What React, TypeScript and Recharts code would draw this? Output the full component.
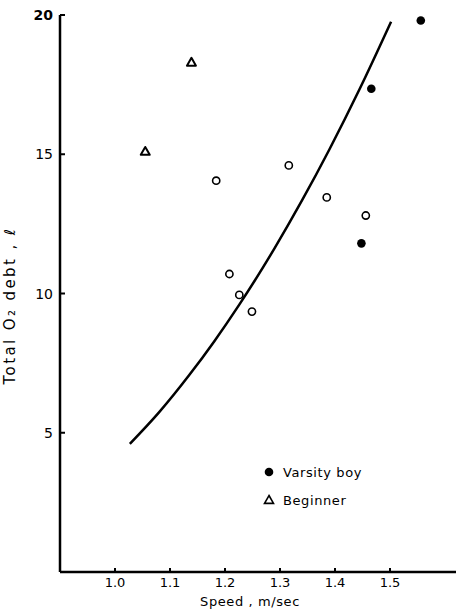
import {
  ComposedChart,
  Scatter,
  Line,
  XAxis,
  YAxis,
} from "recharts";

// values
const xTicks = [1.0, 1.1, 1.2, 1.3, 1.4, 1.5];
const yTicks = [5, 10, 15, 20];

const varsitySpeed = [1.448, 1.466, 1.556];
const varsityDebt = [11.8, 17.35, 19.8];

const beginnerSpeed = [1.055, 1.139];
const beginnerDebt = [15.1, 18.3];

const otherSpeed = [1.184, 1.208, 1.226, 1.249, 1.316, 1.385, 1.456];
const otherDebt = [14.05, 10.7, 9.95, 9.35, 14.6, 13.45, 12.8];

// hand-drawn fitted curve, read along its length
const curveSpeed = [1.027, 1.08, 1.135, 1.18, 1.226, 1.29, 1.34, 1.39, 1.445, 1.502];
const curveDebt = [4.6, 5.73, 7.07, 8.27, 9.6, 11.62, 13.34, 15.18, 17.35, 19.76];

const zip = (xs: number[], ys: number[]) => xs.map((x, i) => ({ x, y: ys[i] }));

const varsity = zip(varsitySpeed, varsityDebt);
const beginner = zip(beginnerSpeed, beginnerDebt);
const others = zip(otherSpeed, otherDebt);
const curve = zip(curveSpeed, curveDebt);

const FONT = "'DejaVu Sans', sans-serif";

const FilledDot = (p: any) => <circle cx={p.cx} cy={p.cy} r={4.3} fill="#000" />;
const OpenDot = (p: any) => (
  <circle cx={p.cx} cy={p.cy} r={3.6} fill="#fff" stroke="#000" strokeWidth={1.6} />
);
const OpenTriangle = (p: any) => {
  const { cx, cy } = p;
  const s = 4.5;
  return (
    <path
      d={`M${cx},${cy - s} L${cx + s},${cy + s * 0.75} L${cx - s},${cy + s * 0.75} Z`}
      fill="#fff"
      stroke="#000"
      strokeWidth={2}
      strokeLinejoin="round"
    />
  );
};

const YTick = (p: any) => {
  const { x, y, payload } = p;
  return (
    <g>
      <line x1={x + 6} x2={x + 11} y1={y} y2={y} stroke="#000" strokeWidth={2} />
      <text
        x={x - 1}
        y={y}
        dy="0.36em"
        textAnchor="end"
        fontSize={14}
        fontFamily={FONT}
        fontWeight={payload.value === 20 ? "bold" : "normal"}
        fill="#000"
      >
        {payload.value}
      </text>
    </g>
  );
};

const XTick = (p: any) => {
  const { x, y, payload } = p;
  return (
    <g>
      <line x1={x} x2={x} y1={y - 6} y2={y - 10} stroke="#000" strokeWidth={2} />
      <text
        x={x}
        y={y}
        dy="0.7em"
        textAnchor="middle"
        fontSize={13}
        fontFamily={FONT}
        fill="#000"
      >
        {payload.value.toFixed(1)}
      </text>
    </g>
  );
};

const legendStyle: React.CSSProperties = {
  position: "absolute",
  left: 262,
  top: 458,
  fontFamily: FONT,
  fontSize: 13,
  letterSpacing: 0.6,
  color: "#000",
};

export default function App() {
  return (
    <div style={{ position: "relative", width: 456, height: 616, background: "#fff" }}>
      <style>{`body{margin:0}`}</style>
      <ComposedChart
        width={456}
        height={616}
        margin={{ top: 15, right: 0, bottom: 0, left: 0 }}
      >
        <XAxis
          type="number"
          dataKey="x"
          domain={[0.9, 1.62]}
          ticks={xTicks}
          allowDataOverflow
          height={44}
          tickSize={0}
          tickMargin={6}
          tickLine={false}
          tick={<XTick />}
          axisLine={{ stroke: "#000", strokeWidth: 2.5 }}
          label={{
            value: "Speed ,  m/sec",
            position: "insideBottom",
            offset: 10,
            dx: -8,
            fontSize: 13,
            fontFamily: FONT,
            fill: "#000",
            letterSpacing: 0.6,
          }}
        />
        <YAxis
          type="number"
          dataKey="y"
          domain={[0, 20]}
          ticks={yTicks}
          width={60}
          tickSize={0}
          tickMargin={6}
          tickLine={false}
          tick={<YTick />}
          axisLine={{ stroke: "#000", strokeWidth: 2.5 }}
          label={{
            value: "Total  O\u2082  debt ,  \u2113",
            angle: -90,
            position: "insideLeft",
            offset: 10,
            dy: 12,
            fontSize: 15,
            fontFamily: FONT,
            fill: "#000",
            letterSpacing: 2.4,
            style: { textAnchor: "middle" },
          }}
        />
        <Line
          data={curve}
          dataKey="y"
          type="monotone"
          stroke="#000"
          strokeWidth={2.5}
          dot={false}
          activeDot={false}
          isAnimationActive={false}
          legendType="none"
        />
        <Scatter data={others} shape={OpenDot} isAnimationActive={false} legendType="none" />
        <Scatter data={varsity} shape={FilledDot} isAnimationActive={false} name="Varsity boy" />
        <Scatter data={beginner} shape={OpenTriangle} isAnimationActive={false} name="Beginner" />
      </ComposedChart>
      <div style={legendStyle}>
        <div style={{ display: "flex", alignItems: "center", height: 28 }}>
          <svg width={14} height={14} style={{ marginRight: 7 }}>
            <circle cx={7} cy={7} r={4.3} fill="#000" />
          </svg>
          Varsity boy
        </div>
        <div style={{ display: "flex", alignItems: "center", height: 28 }}>
          <svg width={14} height={14} style={{ marginRight: 7 }}>
            <path d="M7,2.5 L11.5,10.4 L2.5,10.4 Z" fill="#fff" stroke="#000" strokeWidth={1.6} />
          </svg>
          Beginner
        </div>
      </div>
    </div>
  );
}
